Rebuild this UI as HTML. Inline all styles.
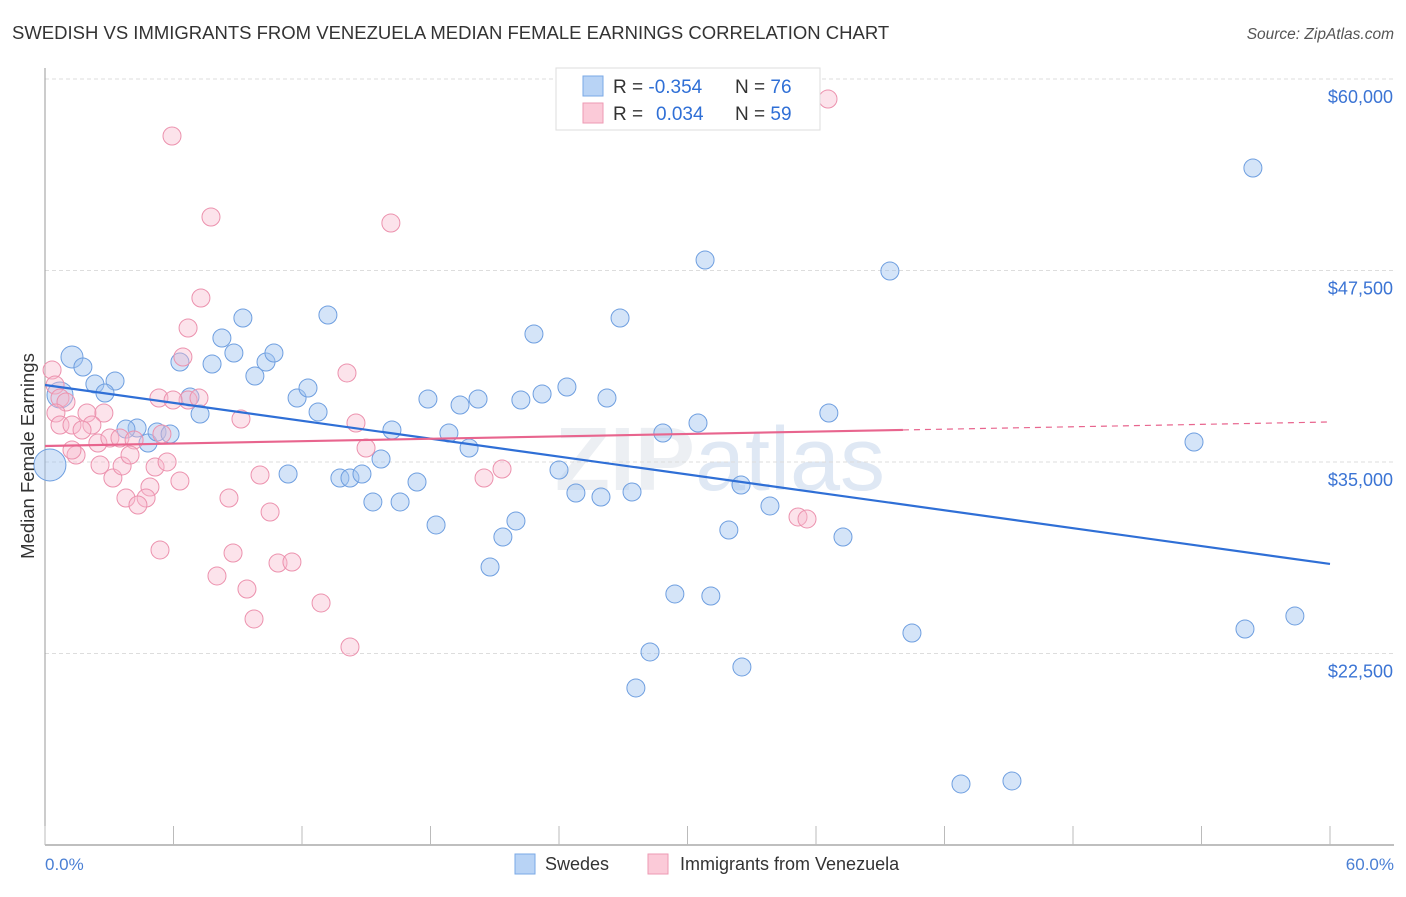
<!DOCTYPE html>
<html><head><meta charset="utf-8"><style>
body{margin:0;background:#fff;font-family:"Liberation Sans",sans-serif;}
svg text{font-family:"Liberation Sans",sans-serif;}
</style></head><body>
<svg id="chart" width="1406" height="892" xmlns="http://www.w3.org/2000/svg">
<text x="12" y="39" font-size="18.5" fill="#333">SWEDISH VS IMMIGRANTS FROM VENEZUELA MEDIAN FEMALE EARNINGS CORRELATION CHART</text>
<text x="1394" y="39" font-size="15.5" fill="#555" text-anchor="end" font-style="italic">Source: ZipAtlas.com</text>
<text x="720" y="490" font-size="90" fill="#eceff3" text-anchor="middle" font-family="Liberation Serif" font-weight="bold">ZIP<tspan font-family="Liberation Sans" font-weight="normal" fill="#dfe8f4">atlas</tspan></text>
<g id="grid"></g>
<g id="axes"></g>
<g id="pts"></g>
<g id="lines"></g>
<text transform="translate(34,456) rotate(-90)" font-size="18.5" fill="#333" text-anchor="middle">Median Female Earnings</text>
<text x="45" y="870" font-size="17" fill="#4a7fd4">0.0%</text>
<text x="1394" y="870" font-size="17" fill="#4a7fd4" text-anchor="end">60.0%</text>
<g>
<rect x="515" y="854" width="20" height="20" fill="#b8d3f5" stroke="#7aa8e6"/>
<text x="545" y="870" font-size="18" fill="#333">Swedes</text>
<rect x="648" y="854" width="20" height="20" fill="#fbcad8" stroke="#ee9ab3"/>
<text x="680" y="870" font-size="18" fill="#333">Immigrants from Venezuela</text>
</g>
<g>
<rect x="556" y="68" width="264" height="62" fill="#fff" stroke="#ddd"/>
<rect x="583" y="76" width="20" height="20" fill="#b8d3f5" stroke="#7aa8e6"/>
<text x="613" y="93" font-size="19" fill="#333">R = <tspan fill="#2f6fd6">-0.354</tspan><tspan x="735">N = </tspan><tspan fill="#2f6fd6">76</tspan></text>
<rect x="583" y="103" width="20" height="20" fill="#fbcad8" stroke="#ee9ab3"/>
<text x="613" y="120" font-size="19" fill="#333">R = <tspan x="656" fill="#2f6fd6">0.034</tspan><tspan x="735">N = </tspan><tspan fill="#2f6fd6">59</tspan></text>
</g>
</svg>
<script>
const yTicks=[60000,47500,35000,22500];
const yTickLabels=["$60,000","$47,500","$35,000","$22,500"];
const xTicks=[0,6,12,18,24,30,36,42,48,54,60];
const swedesX=[1.26,0.70,0.23,1.77,2.33,3.27,2.80,6.77,7.24,8.26,9.24,8.82,7.80,6.30,9.80,10.32,10.69,11.77,12.28,12.75,13.21,11.35,13.77,14.24,14.80,15.69,15.31,16.58,16.20,17.37,17.88,18.26,18.86,19.38,19.80,20.22,20.78,21.38,21.99,22.22,22.83,23.21,24.00,24.37,24.79,25.96,26.24,26.85,27.41,27.59,28.25,28.85,29.41,30.49,30.82,31.09,31.93,32.50,32.54,33.85,36.60,37.26,39.45,40.48,42.77,45.15,53.65,56.03,56.40,58.36,4.81,4.30,3.78,5.23,5.84];
const swedesY=[41855,39375,34806,41202,40093,40288,39505,39244,38135,43095,44400,42116,41398,41529,40615,41529,42116,39179,39832,38265,44596,34218,33957,33957,34218,35197,32391,32391,37090,33696,39114,30890,36894,38722,35915,39114,28148,30106,31151,39048,43356,39440,34479,39897,32978,32717,39179,44400,33043,20251,22600,36894,26386,37547,48186,26255,30563,33500,21621,32130,38200,30106,47468,23840,13985,14180,36307,24101,54191,24950,36242,37221,37150,36960,36829];
const swedesSize=[11,13,16,9,9,9,9,9,9,9,9,9,9,9,9,9,9,9,9,9,9,9,9,9,9,9,9,9,9,9,9,9,9,9,9,9,9,9,9,9,9,9,9,9,9,9,9,9,9,9,9,9,9,9,9,9,9,9,9,9,9,9,9,9,9,9,9,9,9,9,9,9,9,9,9];
const venX=[5.93,7.75,16.15,36.56,7.28,6.68,6.44,14.10,0.33,0.47,0.70,0.98,0.51,0.70,1.26,1.96,2.75,2.19,1.73,2.47,3.03,3.50,4.16,5.46,6.68,5.32,5.98,7.19,9.15,14.52,14.99,1.45,1.26,2.57,3.17,3.60,3.97,5.14,5.70,6.30,4.90,4.72,3.78,4.34,8.59,10.04,10.51,5.37,8.78,8.03,9.43,10.88,11.53,9.76,12.89,14.24,20.50,21.34,35.16,35.58];
const venY=[56280,50993,50601,58695,45706,43748,41855,40811,41006,40028,39179,38918,38200,37417,37417,38200,38200,37417,37090,36242,36568,36568,36438,36829,39048,39179,39048,39179,37808,37547,35915,35458,35785,34806,33957,34741,35458,34675,35002,33761,33370,32652,32652,32195,32652,34153,31738,29258,29062,27561,26712,28409,28474,24754,25799,22927,33957,34545,31412,31282];
const swedesTrend=[40027,28344];
const venTrend=[36046,37613];
const venTrendSolidEnd=40.06;

const NS="http://www.w3.org/2000/svg";
const X0=45,X1=1330,XMAX=60;
function xs(v){return X0+(X1-X0)*v/XMAX;}
function ys(v){return 79+(60000-v)*191.5/12500;}
function mk(tag,attrs,parent){const e=document.createElementNS(NS,tag);for(const k in attrs)e.setAttribute(k,attrs[k]);parent.appendChild(e);return e;}
const grid=document.getElementById('grid'),axes=document.getElementById('axes'),pts=document.getElementById('pts'),lines=document.getElementById('lines');
yTicks.forEach((t,i)=>{
  const l=mk('line',{x1:45,x2:1394,y1:ys(t),y2:ys(t),stroke:'#ddd','stroke-dasharray':'4,3'},grid);
  
  
  const tx=mk('text',{x:1393,y:ys(t)+24,'font-size':18,fill:'#3b74d4','text-anchor':'end'},grid);
  tx.textContent=yTickLabels[i];
  
  
});
const ya=mk('line',{x1:45,x2:45,y1:68,y2:845,stroke:'#999'},axes);


const xa=mk('line',{x1:45,x2:1394,y1:845,y2:845,stroke:'#aaa','stroke-width':1.5},axes);


xTicks.forEach(t=>{
  const l=mk('line',{x1:xs(t),x2:xs(t),y1:826,y2:845,stroke:'#bbb'},axes);
  
  
});
swedesX.forEach((x,i)=>{
  const c=mk('circle',{cx:xs(x),cy:ys(swedesY[i]),r:swedesSize[i],fill:'rgba(160,196,240,0.45)',stroke:'#6f9fe0','stroke-width':1},pts);
  
  
});
venX.forEach((x,i)=>{
  const c=mk('circle',{cx:xs(x),cy:ys(venY[i]),r:9,fill:'rgba(248,186,206,0.4)',stroke:'#ec92ae','stroke-width':1},pts);
  
  
});
const bl=mk('line',{x1:xs(0),y1:ys(swedesTrend[0]),x2:xs(60),y2:ys(swedesTrend[1]),stroke:'#2f6fd6','stroke-width':2.2},lines);


const vMid=venTrend[0]+(venTrend[1]-venTrend[0])*venTrendSolidEnd/60;
const pl=mk('line',{x1:xs(0),y1:ys(venTrend[0]),x2:xs(venTrendSolidEnd),y2:ys(vMid),stroke:'#e8658e','stroke-width':2.2},lines);


const pd=mk('line',{x1:xs(venTrendSolidEnd),y1:ys(vMid),x2:xs(60),y2:ys(venTrend[1]),stroke:'#e8658e','stroke-width':1.2,'stroke-dasharray':'6,5'},lines);


</script>
</body></html>
